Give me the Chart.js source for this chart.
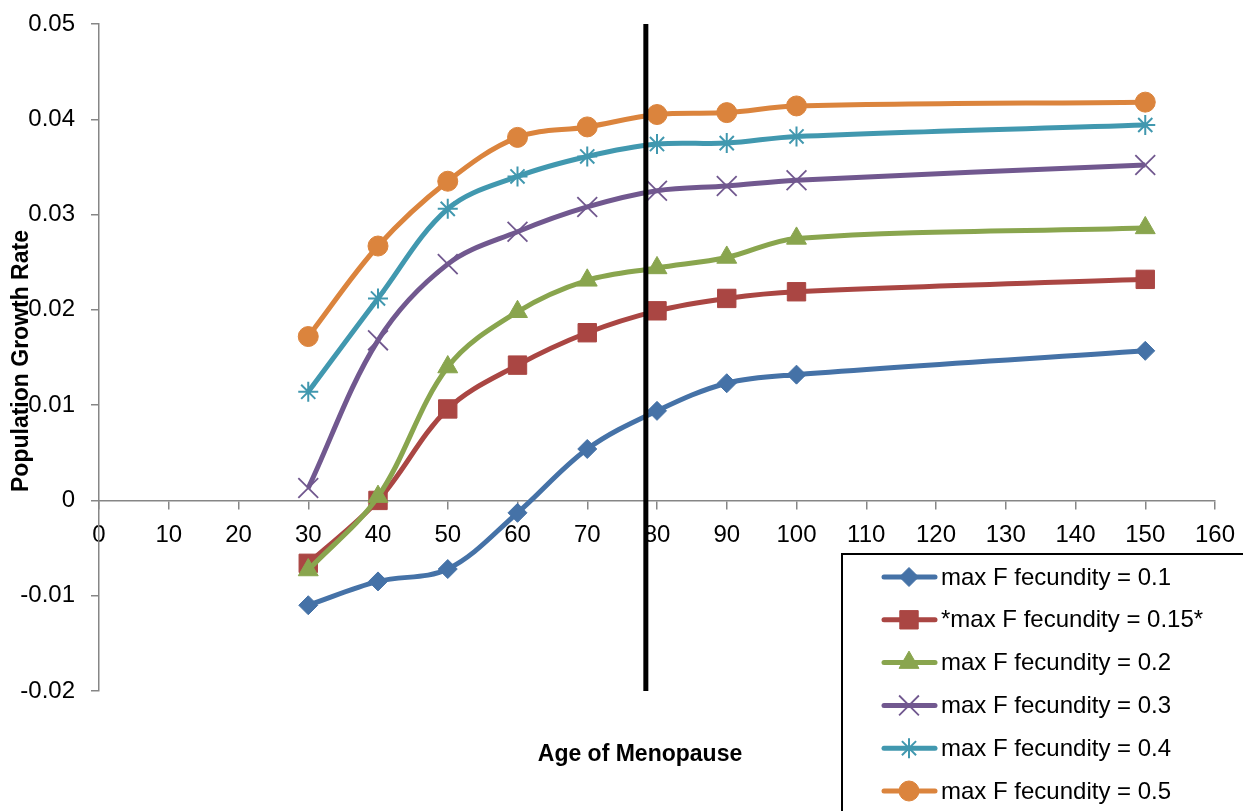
<!DOCTYPE html>
<html>
<head>
<meta charset="utf-8">
<script src="https://cdn.jsdelivr.net/npm/chart.js@4/dist/chart.umd.min.js"></script>
<style>
  html, body { margin: 0; padding: 0; background: #fff; }
  #wrap { width: 1243px; height: 811px; }
</style>
</head>
<body>
<div id="wrap"><canvas id="chartMenopause" width="1243" height="811"></canvas></div>
<script>
// age of menopause (x) and population growth rate per max female fecundity
const ages = [30, 40, 50, 60, 70, 80, 90, 100, 150];
const fec01  = [-0.0110, -0.0085, -0.0072, -0.0013, 0.0054, 0.0094, 0.0123, 0.0132, 0.0157];
const fec015 = [-0.0066, 0.0000, 0.0096, 0.0142, 0.0176, 0.0199, 0.0212, 0.0219, 0.0232];
const fec02  = [-0.0073, 0.0004, 0.0140, 0.0198, 0.0231, 0.0244, 0.0255, 0.0275, 0.0286];
const fec03  = [0.0013, 0.0168, 0.0248, 0.0282, 0.0308, 0.0325, 0.0330, 0.0336, 0.0352];
const fec04  = [0.0114, 0.0212, 0.0306, 0.0340, 0.0361, 0.0374, 0.0375, 0.0382, 0.0394];
const fec05  = [0.0172, 0.0267, 0.0335, 0.0381, 0.0392, 0.0405, 0.0407, 0.0414, 0.0418];
const seriesLabels = ['max F fecundity = 0.1', '*max F fecundity = 0.15*', 'max F fecundity = 0.2',
                      'max F fecundity = 0.3', 'max F fecundity = 0.4', 'max F fecundity = 0.5'];
const cutoffAge = 78.4;          // vertical marker line
const yMin = -0.02, yMax = 0.05;

const FONT = "'Liberation Sans', Arial, sans-serif";
const styles = [
  {color: '#4572A7', point: 'rectRot',  r: 9.5, bw: 1},
  {color: '#AA4643', point: 'rect',     r: 13,  bw: 1},
  {color: '#89A54E', point: 'triangle', r: 11.5,bw: 1},
  {color: '#71588F', point: 'crossRot', r: 14,  bw: 1.8},
  {color: '#4198AF', point: 'star',     r: 10,  bw: 2},
  {color: '#DB843D', point: 'circle',   r: 10,  bw: 1}
];
const allSeries = [fec01, fec015, fec02, fec03, fec04, fec05];

const datasets = allSeries.map((vals, i) => ({
  label: seriesLabels[i],
  data: ages.map((a, j) => ({x: a, y: vals[j]})),
  borderColor: styles[i].color,
  backgroundColor: styles[i].color,
  borderWidth: 5,
  tension: 0.35,
  pointStyle: styles[i].point,
  pointRadius: styles[i].r,
  pointBorderWidth: styles[i].bw,
  pointBackgroundColor: styles[i].color,
  pointBorderColor: styles[i].color,
  order: 10 - i
}));

datasets.push({
  label: 'cutoff',
  data: [{x: cutoffAge, y: yMax}, {x: cutoffAge, y: yMin}],
  borderColor: '#000',
  borderWidth: 5,
  pointRadius: 0,
  tension: 0,
  order: 0
});

// axis titles and the boxed legend are drawn by hand
const decorations = {
  id: 'decorations',
  afterDraw(chart) {
    const ctx = chart.ctx;
    ctx.save();
    ctx.fillStyle = '#000';
    ctx.font = 'bold 23px ' + FONT;
    ctx.textAlign = 'center';
    ctx.textBaseline = 'middle';
    ctx.fillText('Age of Menopause', 640, 755);
    ctx.translate(22, 361);
    ctx.rotate(-Math.PI / 2);
    ctx.fillText('Population Growth Rate', 0, 0);
    ctx.restore();

    ctx.save();
    ctx.strokeStyle = '#000';
    ctx.lineWidth = 2;
    ctx.strokeRect(842, 554, 420, 300);
    ctx.font = '24px ' + FONT;
    ctx.textBaseline = 'middle';
    ctx.textAlign = 'left';
    chart.data.datasets.slice(0, 6).forEach((ds, i) => {
      const y = 577 + i * 42.8;
      ctx.strokeStyle = ds.borderColor;
      ctx.fillStyle = ds.borderColor;
      ctx.lineWidth = 5;
      ctx.lineCap = 'round';
      ctx.beginPath();
      ctx.moveTo(884, y);
      ctx.lineTo(935, y);
      ctx.stroke();
      ctx.lineWidth = ds.pointBorderWidth;
      ctx.lineCap = 'butt';
      Chart.helpers.drawPoint(ctx, {pointStyle: ds.pointStyle, radius: ds.pointRadius, borderWidth: ds.pointBorderWidth, rotation: 0}, 909, y);
      ctx.fillStyle = '#000';
      ctx.fillText(ds.label, 941, y + 1);
    });
    ctx.restore();
  }
};

Chart.defaults.font.family = FONT;
Chart.defaults.font.size = 24;
Chart.defaults.color = '#000';

new Chart(document.getElementById('chartMenopause'), {
  type: 'line',
  data: {datasets: datasets},
  options: {
    responsive: false,
    animation: false,
    devicePixelRatio: 1,
    layout: {padding: {left: 0, right: 28, top: 24, bottom: 120}},
    plugins: {legend: {display: false}, tooltip: {enabled: false}},
    scales: {
      x: {
        type: 'linear',
        position: {y: 0},
        min: 0, max: 160,
        afterFit: s => { s.paddingLeft = 0; s.paddingRight = 0; },
        ticks: {stepSize: 10, padding: 13, maxRotation: 0, autoSkip: false},
        grid: {drawOnChartArea: false, drawTicks: true, tickLength: 8, color: '#868686', lineWidth: 1.5},
        border: {color: '#868686', width: 1.5}
      },
      y: {
        min: yMin, max: yMax,
        afterFit: s => { s.width = 99; s.paddingTop = 0; s.paddingBottom = 0; },
        ticks: {
          stepSize: 0.01, padding: 16,
          callback: v => (Math.abs(v) < 1e-9 ? '0' : String(+v.toFixed(2)))
        },
        grid: {drawOnChartArea: false, drawTicks: true, tickLength: 8, color: '#868686', lineWidth: 1.5},
        border: {color: '#868686', width: 1.5}
      }
    }
  },
  plugins: [decorations]
});
</script>
</body>
</html>
